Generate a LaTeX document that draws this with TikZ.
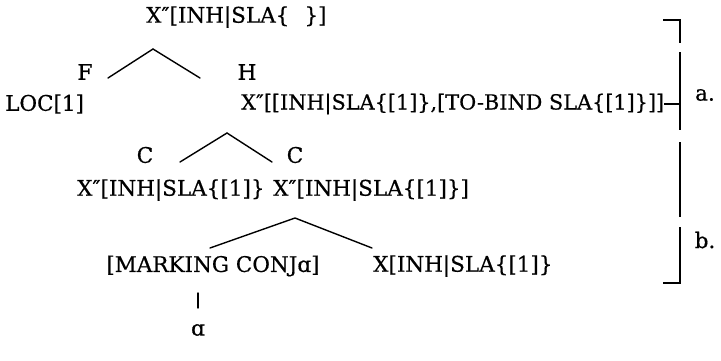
\documentclass[tikz,border=0pt]{standalone}
\usepackage{fontspec}
\setmainfont[FakeBold=0.6]{DejaVu Serif}
\begin{document}
\begin{tikzpicture}[x=1pt,y=-1pt,
  lbl/.style={inner sep=0pt, font=\fontsize{21.5}{24}\selectfont},
  edge/.style={line width=1.4pt, line cap=round},
  brk/.style={line width=1.4pt}]
\useasboundingbox (0,0) rectangle (721,360);

% tree labels
\node[lbl, anchor=west] (root) at (146,17) {X″[INH|SLA\{\hspace{0.7em}\}]};
\node[lbl] (F) at (85,72) {F};
\node[lbl] (H) at (247,72) {H};
\node[lbl, anchor=west] (loc) at (5,104) {LOC[1]};
\node[lbl, anchor=west, font=\fontsize{20.8}{24}\selectfont] (head) at (241,104)
  {X″[[INH|SLA\{[1]\},[TO-BIND SLA\{[1]\}]]};
\node[lbl] (C1) at (145,155) {C};
\node[lbl] (C2) at (295,155) {C};
\node[lbl, anchor=west] (conj1) at (77,190) {X″[INH|SLA\{[1]\}};
\node[lbl, anchor=west] (conj2) at (273,190) {X″[INH|SLA\{[1]\}]};
\node[lbl] (mark) at (213,266) {[MARKING CONJɑ]};
\node[lbl, anchor=west] (xs) at (373,266) {X[INH|SLA\{[1]\}};
\node[lbl] (alpha) at (198,330) {ɑ};

% branch points
\coordinate (pA) at (153,49);
\coordinate (aL) at (108,78);
\coordinate (aR) at (200,78);
\coordinate (pC) at (227,133);
\coordinate (cL) at (180,162);
\coordinate (cR) at (272,162);
\coordinate (pM) at (295,218);
\coordinate (mL) at (210,248);
\coordinate (mR) at (372,248);
\coordinate (t1) at (198,293);
\coordinate (t2) at (198,308);

\draw[edge] (aL) -- (pA) -- (aR);
\draw[edge] (cL) -- (pC) -- (cR);
\draw[edge] (mL) -- (pM) -- (mR);
\draw[edge] (t1) -- (t2);

% side bracket
\coordinate (bT) at (680,20);
\coordinate (bB) at (680,283);
\draw[brk] (663,20) -- (bT) -- (680,43);
\draw[brk] (680,52) -- (680,130);
\draw[brk] (680,142) -- (680,217);
\draw[brk] (680,227) -- (bB) -- (663,283);
\draw[brk] (head.east) -- (head.east -| bT);
\node[lbl] (la) at (705,95) {a.};
\node[lbl] (lb) at (705,240) {b.};
\end{tikzpicture}
\end{document}
